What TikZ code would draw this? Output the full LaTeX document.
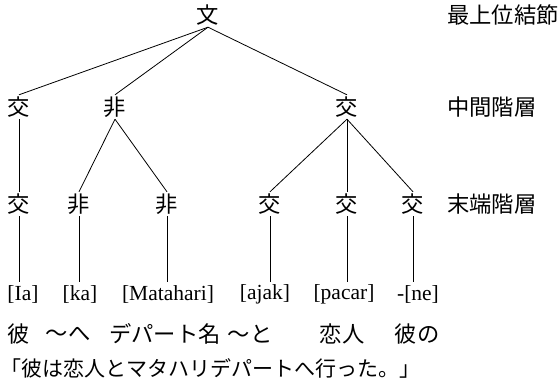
\documentclass[tikz,border=0pt]{standalone}
\usepackage{fontspec}
\setmainfont{Liberation Serif}
\newfontfamily\jp{Noto Sans CJK JP}
\begin{document}
\begin{tikzpicture}[x=1pt,y=-1pt,
  every node/.style={inner sep=0pt, text=black},
  jpt/.style={font=\jp\fontsize{22.3}{26}\selectfont},
  tnode/.style={jpt, minimum height=24pt},
  wnode/.style={font=\fontsize{21.5}{26}\selectfont, minimum height=24pt},
  lbl/.style={jpt, anchor=west},
  conn/.style={draw=black, line width=0.8pt}]
\useasboundingbox (0,0) rectangle (560,382);
% tree
\node[tnode] (top) at (208,15) {文};
\node[tnode] (m1) at (19,107) {交};
\node[tnode] (m2) at (115,107) {非};
\node[tnode] (m3) at (347,107) {交};
\node[tnode] (b1) at (19,204) {交};
\node[tnode] (b2) at (79,204) {非};
\node[tnode] (b3) at (167,204) {非};
\node[tnode] (b4) at (270,204) {交};
\node[tnode] (b5) at (347,204) {交};
\node[tnode] (b6) at (413,204) {交};
% words
\node[wnode] (w1) at (23,294) {[Ia]};
\node[wnode] (w2) at (80,294) {[ka]};
\node[wnode] (w3) at (168,294) {[Matahari]};
\node[wnode] (w4) at (265,294) {[ajak]};
\node[wnode] (w5) at (344,294) {[pacar]};
\node[wnode] (w6) at (418,294) {-[ne]};
% glosses
\node[jpt] (g1) at (19,334) {彼};
\node[jpt] (g2) at (68,334) {～へ};
\node[jpt] (g3) at (165,334) {デパート名};
\node[jpt] (g4) at (250,334) {～と};
\node[jpt] (g5) at (342,334) {恋人};
\node[jpt] (g6) at (417,334) {彼の};
\node[font=\jp\fontsize{21}{26}\selectfont, anchor=west] (sent) at (0,368) {「彼は恋人とマタハリデパートへ行った。」};
% level labels
\node[lbl] (l1) at (447,15) {最上位結節};
\node[lbl] (l2) at (447,107) {中間階層};
\node[lbl] (l3) at (447,204) {末端階層};
% connectors
\draw[conn] (top.south) -- (m1.north);
\draw[conn] (top.south) -- (m2.north);
\draw[conn] (top.south) -- (m3.north);
\draw[conn] (m1.south) -- (b1.north);
\draw[conn] (m2.south) -- (b2.north);
\draw[conn] (m2.south) -- (b3.north);
\draw[conn] (m3.south) -- (b4.north);
\draw[conn] (m3.south) -- (b5.north);
\draw[conn] (m3.south) -- (b6.north);
\draw[conn] (b1.south) -- (b1.south |- w1.north);
\draw[conn] (b2.south) -- (b2.south |- w2.north);
\draw[conn] (b3.south) -- (b3.south |- w3.north);
\draw[conn] (b4.south) -- (b4.south |- w4.north);
\draw[conn] (b5.south) -- (b5.south |- w5.north);
\draw[conn] (b6.south) -- (b6.south |- w6.north);
\end{tikzpicture}
\end{document}
